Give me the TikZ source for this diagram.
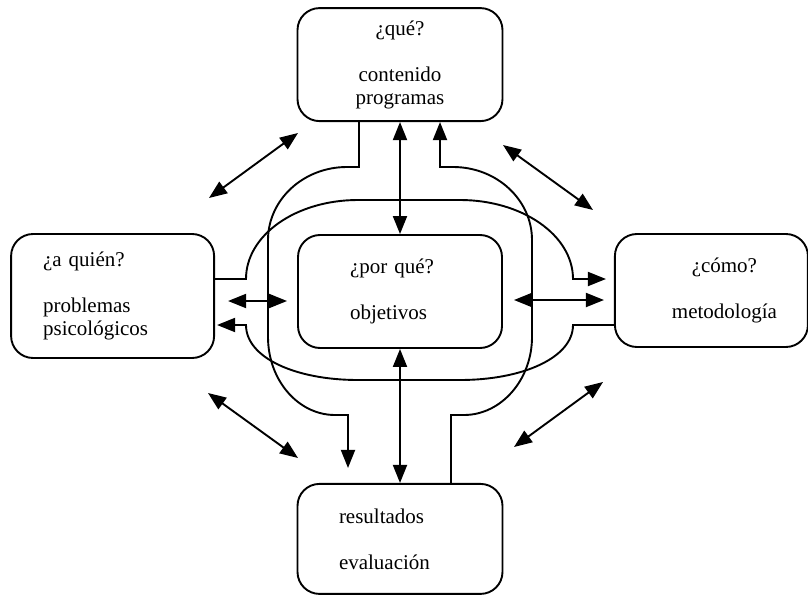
\documentclass[tikz,border=0pt]{standalone}
\usepackage{fontspec}
\setmainfont{Liberation Serif}
\usetikzlibrary{positioning,arrows.meta,calc}
\tikzset{
    base/.style={font=\fontsize{21}{23}\selectfont, align=center},
    theme/.style={base, rectangle, rounded corners=22pt, draw, line width=1.9pt,
                  inner sep=0pt, minimum width=205pt, minimum height=113pt},
    link/.style={line width=1.9pt},
    flow/.style={link, -{Triangle[length=18pt,width=14pt]}},
    both/.style={link, {Triangle[length=18pt,width=14pt]}-{Triangle[length=18pt,width=14pt]}}
}

\begin{document}
\begin{tikzpicture}[x=1pt, y=-1pt]
  \useasboundingbox (0,0) rectangle (808,594);

  % Centre box and the four around it
  \node[theme, minimum width=204pt, text width=100pt, align=left] (porque) at (400,291.5)
       {¿por qué?\\[23pt]objetivos};
  \node[theme, above=112pt of porque] (que)
       {¿qué?\\[23pt]contenido\\programas};
  \node[theme, left=82pt of porque, yshift=-4.5pt, minimum width=203pt, minimum height=124pt,
        text width=139pt, align=left] (quien)
       {¿a quién?\\[23pt]problemas\\psicológicos};
  \node[theme, right=111pt of porque, yshift=1pt, minimum width=193pt] (como)
       {\hspace*{26pt}¿cómo?\\[23pt]\hspace*{26pt}metodología};
  \node[theme, below=134pt of porque, minimum height=110pt, text width=122pt, align=left] (resultados)
       {resultados\\[23pt]evaluación};

  % Loops round the centre
  \draw[flow] ([xshift=-41pt]que.south) -- (359,167) -- (347,167)
      .. controls (303,167) and (268,200) .. (268,240) -- (268,337)
      .. controls (268,380) and (298,415) .. (335,415) -- (348,415)
      -- ([xshift=-52pt,yshift=15pt]resultados.north);
  \draw[flow] ([xshift=51pt]resultados.north) -- (451,415) -- (464,415)
      .. controls (501,415) and (532,380) .. (532,337) -- (532,240)
      .. controls (532,200) and (497,167) .. (453,167) -- (440,167)
      -- ([xshift=40pt]que.south);
  \draw[flow] ([yshift=17pt]quien.east) -- (246,279)
      .. controls (246,235) and (296,200) .. (358,200) -- (460,200)
      .. controls (522,200) and (573,235) .. (573,279)
      -- ([xshift=-8pt,yshift=11.5pt]como.west);
  \draw[flow] ([yshift=-34.5pt]como.west) -- (573,325)
      .. controls (573,358) and (522,380) .. (460,380) -- (358,380)
      .. controls (296,380) and (246,358) .. (246,325)
      -- ([xshift=2pt,yshift=-29pt]quien.east);

  % Straight two-way arrows
  \draw[both] (que.south) -- (porque.north);
  \draw[both] (porque.south) -- (resultados.north);
  \draw[both] ([xshift=13pt,yshift=-5pt]quien.east) -- ([xshift=-10pt,yshift=-9.5pt]porque.west);
  \draw[both] ([xshift=11pt,yshift=-8.5pt]porque.east) -- ([xshift=-10pt,yshift=-9.5pt]como.west);

  % Diagonals between the outer boxes
  \coordinate (tlA) at (209,198);
  \coordinate (tlB) at (298,133);
  \coordinate (trA) at (503,145);
  \coordinate (trB) at (593,210);
  \coordinate (blA) at (208,393);
  \coordinate (blB) at (298,458);
  \coordinate (brA) at (514,447);
  \coordinate (brB) at (603,382);
  \draw[both] (tlA) -- (tlB);
  \draw[both] (trA) -- (trB);
  \draw[both] (blA) -- (blB);
  \draw[both] (brA) -- (brB);
\end{tikzpicture}
\end{document}
